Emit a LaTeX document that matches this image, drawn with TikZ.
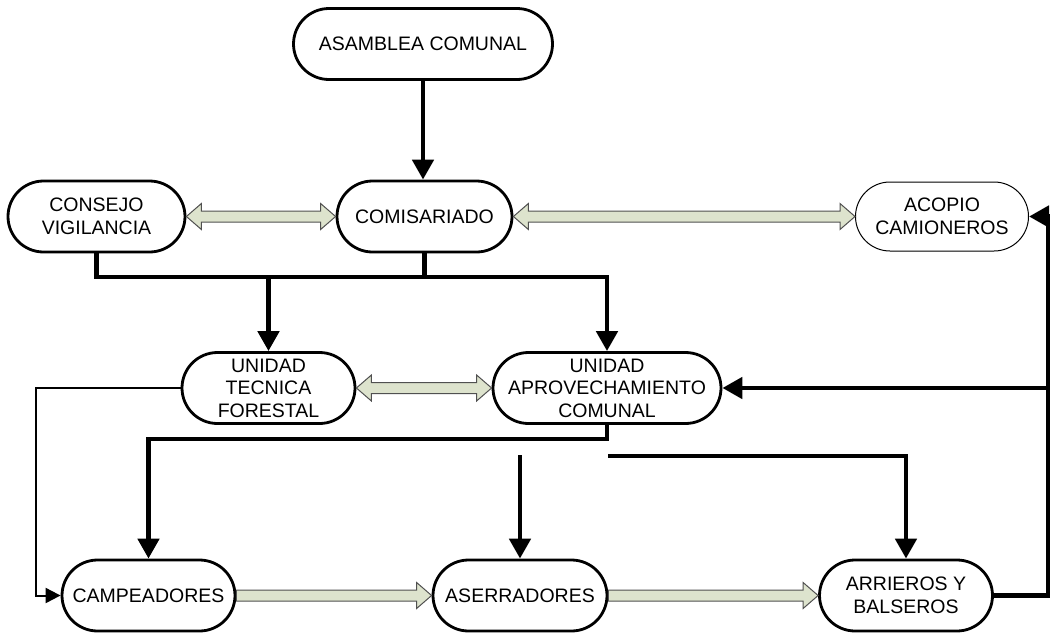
\documentclass[tikz,border=0pt]{standalone}
\usepackage{fontspec}
\setmainfont{Liberation Sans}
\usetikzlibrary{arrows.meta,calc}
\definecolor{gfill}{RGB}{221,227,205}
\definecolor{gline}{RGB}{80,80,80}
\newcommand{\greenboth}[2]{\filldraw[garrow] let \p1=(#1.east), \p2=(#2.west) in
  (\x1,\y1) -- (\x1+15pt,\y1+13pt) -- (\x1+15pt,\y1+5.5pt) -- (\x2-15pt,\y1+5.5pt) -- (\x2-15pt,\y1+13pt) -- (\x2,\y1)
  -- (\x2-15pt,\y1-13pt) -- (\x2-15pt,\y1-5.5pt) -- (\x1+15pt,\y1-5.5pt) -- (\x1+15pt,\y1-13pt) -- cycle;}
\newcommand{\greenright}[2]{\filldraw[garrow] let \p1=(#1.east), \p2=(#2.west) in
  (\x1,\y1+5.5pt) -- (\x2-15pt,\y1+5.5pt) -- (\x2-15pt,\y1+13pt) -- (\x2,\y1)
  -- (\x2-15pt,\y1-13pt) -- (\x2-15pt,\y1-5.5pt) -- (\x1,\y1-5.5pt) -- cycle;}
\begin{document}
\begin{tikzpicture}[x=1pt,y=-1pt,
  box/.style={draw,line width=2.8pt,rounded corners=35.5pt,minimum height=71pt,align=center,inner sep=0pt,fill=white,
    font=\fontsize{19.5}{22.5}\selectfont},
  conn/.style={line width=4.8pt},
  tip/.style={-{Triangle[width=21pt,length=20pt]}},
  smalltip/.style={-{Triangle[width=15pt,length=15pt]}},
  garrow/.style={fill=gfill,draw=gline,line width=1pt}]
\useasboundingbox (0,0) rectangle (1052,632);

\node[box,minimum width=259pt] (asam) at (423,44) {ASAMBLEA COMUNAL};
\node[box,minimum width=177pt] (cons) at (96.5,216.5) {CONSEJO\\VIGILANCIA};
\node[box,minimum width=175pt] (comi) at (424.5,216.5) {COMISARIADO};
\node[box,line width=1pt,minimum width=173pt,minimum height=69pt,rounded corners=34.5pt] (acop) at (942,216.5) {ACOPIO\\CAMIONEROS};
\node[box,minimum width=173pt] (utf) at (268.5,388) {UNIDAD\\TECNICA\\FORESTAL};
\node[box,minimum width=228pt] (uac) at (607,388) {UNIDAD\\APROVECHAMIENTO\\COMUNAL};
\node[box,minimum width=173pt] (camp) at (148.5,595.5) {CAMPEADORES};
\node[box,minimum width=174pt] (aser) at (520,595.5) {ASERRADORES};
\node[box,minimum width=173pt] (arri) at (906,595.5) {ARRIEROS Y\\BALSEROS};

\coordinate (busL) at (0,277);
\coordinate (leftc) at (36,0);
\coordinate (mid1) at (0,439);
\coordinate (aserTop) at (520,455);
\coordinate (arrStart) at (608,456);
\coordinate (rightc) at (1048,0);

\draw[conn,tip] (asam.south) -- (asam.south |- comi.north);
\draw[conn,tip] (cons.south) |- (uac.north |- busL) -- (uac.north);
\draw[conn] (comi.south) -- (comi.south |- busL);
\draw[conn,tip] (utf.north |- busL) -- (utf.north);
\draw[line width=2pt,smalltip] (utf.west) -- (utf.west -| leftc) |- (camp.west);
\draw[conn,tip] (uac.south) -- (uac.south |- mid1) -| (camp.north);
\draw[conn,tip] (aserTop) -- (aser.north);
\draw[conn,tip] (arrStart) -| (arri.north);
\draw[conn,tip] (arri.east) -- (arri.east -| rightc) |- (acop.east);
\draw[conn,tip] (uac.east -| rightc) -- (uac.east);

\greenboth{cons}{comi}
\greenboth{comi}{acop}
\greenboth{utf}{uac}
\greenright{camp}{aser}
\greenright{aser}{arri}
\end{tikzpicture}
\end{document}
